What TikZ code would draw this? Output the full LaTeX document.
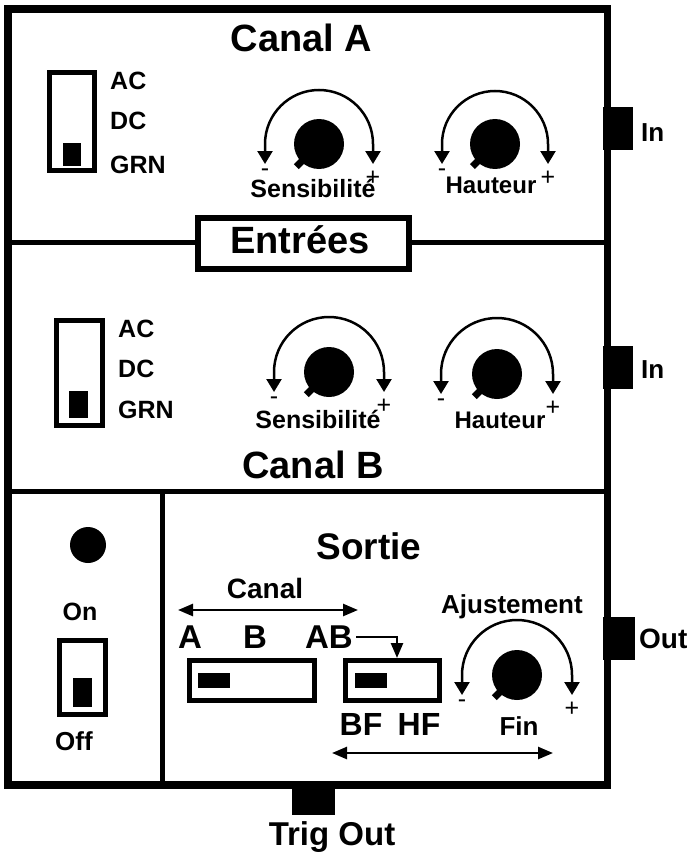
\documentclass[tikz,border=0pt]{standalone}
\usepackage{fontspec}
\setmainfont{Liberation Sans}
\usetikzlibrary{arrows.meta}
\newcommand\myfs[1]{\fontsize{#1}{#1}\selectfont\bfseries}
\tikzset{
  txt/.style={inner sep=0pt, anchor=base, font=\myfs{#1}},
  txtl/.style={inner sep=0pt, anchor=base west, font=\myfs{#1}},
  frame/.style={line width=7.5pt},
  divider/.style={line width=5pt},
  swbox/.style={draw, line width=5pt, fill=white},
  swknob/.style={fill=black},
  jack/.style={fill=black},
  tipA/.tip={Triangle[length=13pt,width=15pt]},
  tipB/.tip={Triangle[length=15pt,width=12pt]},
  arcline/.style={line width=2.5pt, tipA-tipA},
  dblarrow/.style={line width=2.5pt, tipB-tipB},
  onearrow/.style={line width=2.5pt, -tipB},
  pm/.style={inner sep=0pt, font=\fontsize{25}{25}\selectfont},
}
\newcommand\mydial[4]{%
  \coordinate (#1) at (#2,#3);
  \fill (#1) circle[radius=25];
  \draw[line width=7pt] (#1) -- ++(135:32);
  \draw[arcline] ([shift={(-#4,20)}]#1) -- ++(0,-20)
     arc[start angle=180, end angle=360, radius=#4] -- ++(0,20);
  \node[pm] (#1m) at ([shift={(-#4,29)}]#1) {-};
  \node[pm] (#1p) at ([shift={(#4,34)}]#1) {+};
}
\begin{document}
\begin{tikzpicture}[x=1pt, y=1pt, yscale=-1]
\useasboundingbox (0,0) rectangle (691,856);

% jacks (behind frame)
\fill[jack] (603,107) rectangle (633,150);
\fill[jack] (603,346) rectangle (633,389);
\fill[jack] (603,617) rectangle (635,660);
\fill[jack] (292,785) rectangle (335,815);

% frame and dividers
\draw[frame] (8,9) rectangle (607.5,785);
\draw[divider] (8,242.5) -- (607.5,242.5);
\draw[divider] (8,491) -- (607.5,491);
\draw[divider] (162.5,491) -- (162.5,785);

% Entrees box
\draw[line width=6pt, fill=white] (198,218) rectangle (409,269);
\node (entrees) [txt=38] at (300,253) {Entrées};

% titles
\node (canalA) [txt=38] at (301.5,52) {Canal A};
\node (canalB) [txt=38] at (313,478) {Canal B};
\node (sortie) [txt=37] at (369,559) {Sortie};

% Canal A switch
\draw[swbox] (49.5,72.5) rectangle (94.5,170.5);
\fill[swknob] (63,143) rectangle (81,166);
\node (acA) [txtl=25] at (110,90) {AC};
\node (dcA) [txtl=25] at (110,130) {DC};
\node (grnA) [txtl=25] at (110,173) {GRN};

% Canal B switch
\draw[swbox] (56.5,320.5) rectangle (102.5,425.5);
\fill[swknob] (69,391) rectangle (88,418);
\node (acB) [txtl=25] at (118,337) {AC};
\node (dcB) [txtl=25] at (118,377) {DC};
\node (grnB) [txtl=25] at (118,418) {GRN};

% dials
\mydial{sensA}{319}{144}{54}
\mydial{hautA}{495}{144}{53}
\mydial{sensB}{329}{372}{55}
\mydial{hautB}{497}{374}{56}
\mydial{ajust}{517}{675}{55}

\node (lsensA) [txt=25] at (313,197) {Sensibilité};
\node (lhautA) [txt=24] at (491,193) {Hauteur};
\node (lsensB) [txt=25] at (318,428) {Sensibilité};
\node (lhautB) [txt=24] at (500,428) {Hauteur};

% connectors labels
\node (inA) [txtl=26] at (641,142) {In};
\node (inB) [txtl=26] at (641,378) {In};
\node (out) [txtl=28] at (639,648) {Out};
\node (trig) [txt=33] at (332,845) {Trig Out};

% power section
\fill (88,545) circle[radius=18];
\node (on) [txt=25] at (80,620) {On};
\draw[swbox] (59.5,640.5) rectangle (105.5,714.5);
\fill[swknob] (73,678) rectangle (92,707);
\node (off) [txt=26] at (74,750) {Off};

% Sortie section
\node (canal) [txt=28] at (265,598) {Canal};
\coordinate (cl) at (178,610);
\coordinate (cr) at (358,610);
\draw[dblarrow] (cl) -- (cr);
\node (lA) [txt=33] at (190,648) {A};
\node (lB) [txt=33] at (255,648) {B};
\node (lAB) [txt=33] at (329,648) {AB};

\draw[swbox] (189.5,660.5) rectangle (314.5,700.5);
\fill[swknob] (198,673) rectangle (230,688);
\draw[swbox] (345.5,660.5) rectangle (439.5,700.5);
\fill[swknob] (355,673) rectangle (387,688);
\coordinate (box2top) at (397,658);
\draw[onearrow] ([xshift=3pt,yshift=-11pt]lAB.base east) -| (box2top);

\node (bf) [txt=32] at (361,735) {BF};
\node (hf) [txt=32] at (419,735) {HF};
\node (aj) [txt=26] at (512,613) {Ajustement};
\node (fin) [txt=26] at (519,735) {Fin};
\coordinate (bl) at (332,753);
\coordinate (br) at (553,753);
\draw[dblarrow] (bl) -- (br);
\end{tikzpicture}
\end{document}
